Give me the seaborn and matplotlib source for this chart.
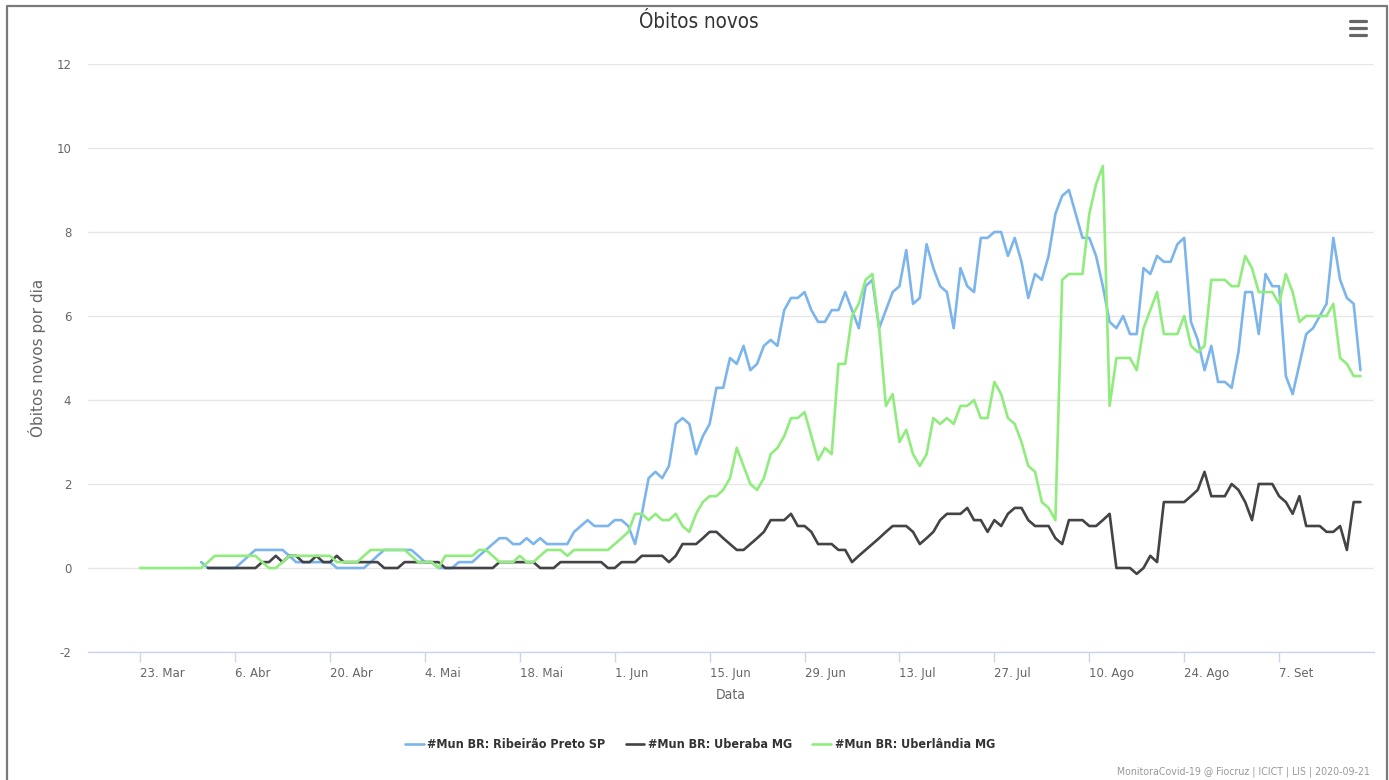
import pandas as pd
import matplotlib
matplotlib.use('Agg')
import matplotlib.pyplot as plt
from matplotlib.lines import Line2D
import seaborn as sns

# Daily new deaths (7-day average)
ribeirao_start = '2020-04-01'
ribeirao = [
    0.14, 0, 0, 0, 0, 0, 0.14, 0.29, 0.43, 0.43, 0.43, 0.43, 0.43, 0.29, 0.14, 0.14, 0.14, 0.14, 0.14, 0.14,
    0, 0, 0, 0, 0, 0.14, 0.29, 0.43, 0.43, 0.43, 0.43, 0.43, 0.29, 0.14, 0.14, 0, 0, 0, 0.14, 0.14,
    0.14, 0.29, 0.43, 0.57, 0.71, 0.71, 0.57, 0.57, 0.71, 0.57, 0.71, 0.57, 0.57, 0.57, 0.57, 0.86, 1.0, 1.14, 1.0, 1.0,
    1.0, 1.14, 1.14, 1.0, 0.57, 1.29, 2.14, 2.29, 2.14, 2.43, 3.43, 3.57, 3.43, 2.71, 3.14, 3.43, 4.29, 4.29, 5.0, 4.86,
    5.29, 4.71, 4.86, 5.29, 5.43, 5.29, 6.14, 6.43, 6.43, 6.57, 6.14, 5.86, 5.86, 6.14, 6.14, 6.57, 6.14, 5.71, 6.71, 6.86,
    5.71, 6.14, 6.57, 6.71, 7.57, 6.29, 6.43, 7.71, 7.14, 6.71, 6.57, 5.71, 7.14, 6.71, 6.57, 7.86, 7.86, 8.0, 8.0, 7.43,
    7.86, 7.29, 6.43, 7.0, 6.86, 7.43, 8.43, 8.86, 9.0, 8.43, 7.86, 7.86, 7.43, 6.71, 5.86, 5.71, 6.0, 5.57, 5.57, 7.14,
    7.0, 7.43, 7.29, 7.29, 7.71, 7.86, 5.86, 5.43, 4.71, 5.29, 4.43, 4.43, 4.29, 5.14, 6.57, 6.57, 5.57, 7.0, 6.71, 6.71,
    4.57, 4.14, 4.86, 5.57, 5.71, 6.0, 6.29, 7.86, 6.86, 6.43, 6.29, 4.71,
]

uberaba_start = '2020-04-02'
uberaba = [
    0, 0, 0, 0, 0, 0, 0, 0, 0.14, 0.14, 0.29, 0.14, 0.29, 0.29, 0.14, 0.14, 0.29, 0.14, 0.14, 0.29,
    0.14, 0.14, 0.14, 0.14, 0.14, 0.14, 0, 0, 0, 0.14, 0.14, 0.14, 0.14, 0.14, 0.14, 0, 0, 0, 0, 0,
    0, 0, 0, 0.14, 0.14, 0.14, 0.14, 0.14, 0.14, 0, 0, 0, 0.14, 0.14, 0.14, 0.14, 0.14, 0.14, 0.14, 0,
    0, 0.14, 0.14, 0.14, 0.29, 0.29, 0.29, 0.29, 0.14, 0.29, 0.57, 0.57, 0.57, 0.71, 0.86, 0.86, 0.71, 0.57, 0.43, 0.43,
    0.57, 0.71, 0.86, 1.14, 1.14, 1.14, 1.29, 1.0, 1.0, 0.86, 0.57, 0.57, 0.57, 0.43, 0.43, 0.14, 0.29, 0.43, 0.57, 0.71,
    0.86, 1.0, 1.0, 1.0, 0.86, 0.57, 0.71, 0.86, 1.14, 1.29, 1.29, 1.29, 1.43, 1.14, 1.14, 0.86, 1.14, 1.0, 1.29, 1.43,
    1.43, 1.14, 1.0, 1.0, 1.0, 0.71, 0.57, 1.14, 1.14, 1.14, 1.0, 1.0, 1.14, 1.29, 0, 0, 0, -0.14, 0, 0.29,
    0.14, 1.57, 1.57, 1.57, 1.57, 1.71, 1.86, 2.29, 1.71, 1.71, 1.71, 2.0, 1.86, 1.57, 1.14, 2.0, 2.0, 2.0, 1.71, 1.57,
    1.29, 1.71, 1.0, 1.0, 1.0, 0.86, 0.86, 1.0, 0.43, 1.57, 1.57,
]

uberlandia_start = '2020-03-23'
uberlandia = [
    0, 0, 0, 0, 0, 0, 0, 0, 0, 0, 0.14, 0.29, 0.29, 0.29, 0.29, 0.29, 0.29, 0.29, 0.14, 0,
    0, 0.14, 0.29, 0.29, 0.29, 0.29, 0.29, 0.29, 0.29, 0.14, 0.14, 0.14, 0.14, 0.29, 0.43, 0.43, 0.43, 0.43, 0.43, 0.43,
    0.29, 0.14, 0.14, 0.14, 0, 0.29, 0.29, 0.29, 0.29, 0.29, 0.43, 0.43, 0.29, 0.14, 0.14, 0.14, 0.29, 0.14, 0.14, 0.29,
    0.43, 0.43, 0.43, 0.29, 0.43, 0.43, 0.43, 0.43, 0.43, 0.43, 0.57, 0.71, 0.86, 1.29, 1.29, 1.14, 1.29, 1.14, 1.14, 1.29,
    1.0, 0.86, 1.29, 1.57, 1.71, 1.71, 1.86, 2.14, 2.86, 2.43, 2.0, 1.86, 2.14, 2.71, 2.86, 3.14, 3.57, 3.57, 3.71, 3.14,
    2.57, 2.86, 2.71, 4.86, 4.86, 6.0, 6.29, 6.86, 7.0, 5.71, 3.86, 4.14, 3.0, 3.29, 2.71, 2.43, 2.71, 3.57, 3.43, 3.57,
    3.43, 3.86, 3.86, 4.0, 3.57, 3.57, 4.43, 4.14, 3.57, 3.43, 3.0, 2.43, 2.29, 1.57, 1.43, 1.14, 6.86, 7.0, 7.0, 7.0,
    8.43, 9.14, 9.57, 3.86, 5.0, 5.0, 5.0, 4.71, 5.71, 6.14, 6.57, 5.57, 5.57, 5.57, 6.0, 5.29, 5.14, 5.29, 6.86, 6.86,
    6.86, 6.71, 6.71, 7.43, 7.14, 6.57, 6.57, 6.57, 6.29, 7.0, 6.57, 5.86, 6.0, 6.0, 6.0, 6.0, 6.29, 5.0, 4.86, 4.57, 4.57,
]

series_names = ['#Mun BR: Ribeirão Preto SP', '#Mun BR: Uberaba MG', '#Mun BR: Uberlândia MG']
series_colors = ['#7cb5ec', '#434348', '#90ed7d']

tick_dates = ['2020-03-23', '2020-04-06', '2020-04-20', '2020-05-04', '2020-05-18', '2020-06-01', '2020-06-15',
              '2020-06-29', '2020-07-13', '2020-07-27', '2020-08-10', '2020-08-24', '2020-09-07']
tick_labels = ['23. Mar', '6. Abr', '20. Abr', '4. Mai', '18. Mai', '1. Jun', '15. Jun',
               '29. Jun', '13. Jul', '27. Jul', '10. Ago', '24. Ago', '7. Set']
y_ticks = [-2, 0, 2, 4, 6, 8, 10, 12]

frames = []
for name, start, vals in zip(series_names, [ribeirao_start, uberaba_start, uberlandia_start],
                             [ribeirao, uberaba, uberlandia]):
    frames.append(pd.DataFrame({'Data': pd.date_range(start, periods=len(vals), freq='D'),
                                'obitos': vals, 'serie': name}))
df = pd.concat(frames, ignore_index=True)

sns.set_style('white')
plt.rcParams['font.family'] = ['DejaVu Sans']

fig = plt.figure(figsize=(13.89, 7.8), dpi=100)
ax = fig.add_axes([88 / 1389, 1 - 652 / 780, (1374 - 88) / 1389, (652 - 64) / 780])

sns.lineplot(data=df, x='Data', y='obitos', hue='serie', hue_order=series_names,
             palette=series_colors, estimator=None, sort=False, linewidth=1.9,
             legend=False, ax=ax)
for ln in ax.get_lines():
    ln.set_solid_joinstyle('round')

t0 = pd.Timestamp('2020-03-23')
ax.set_xlim(t0 - pd.Timedelta(days=7.7), t0 + pd.Timedelta(days=182))
ax.set_ylim(-2, 12)
ax.set_yticks(y_ticks)
ax.set_yticklabels([str(v) for v in y_ticks])
ax.set_xticks(pd.to_datetime(tick_dates))
ax.set_xticklabels(tick_labels)
for lab in ax.get_xticklabels():
    lab.set_horizontalalignment('left')

ax.yaxis.grid(True, color='#e6e6e6', linewidth=1)
ax.xaxis.grid(False)
for side in ['top', 'left', 'right']:
    ax.spines[side].set_visible(False)
ax.spines['bottom'].set_color('#ccd6eb')
ax.spines['bottom'].set_linewidth(1)
ax.tick_params(axis='x', bottom=True, direction='out', length=7.5, width=1, color='#ccd6eb',
               labelcolor='#666666', labelsize=8.5, pad=3)
ax.tick_params(axis='y', left=False, length=0, labelcolor='#666666', labelsize=8.5, pad=12)

ax.set_xlabel('Data', color='#666666', fontsize=10, fontstretch='condensed')
ax.xaxis.set_label_coords(0.5, -(688 - 652) / 588)
ax.set_ylabel('Óbitos novos por dia', color='#666666', fontsize=11)
ax.yaxis.set_label_coords((46 - 88) / 1286, 0.5)

fig.text(699 / 1389, 1 - 22 / 780, 'Óbitos novos', ha='center', va='center',
         fontsize=14.8, color='#333333', fontweight='light', fontstretch='condensed')

handles = [Line2D([], [], color=c, linewidth=1.9) for c in series_colors]
fig.legend(handles, series_names, loc='center', bbox_to_anchor=(700 / 1389, 1 - 745 / 780),
           ncol=3, frameon=False, handlelength=1.5, handletextpad=0.3, columnspacing=1.6,
           prop={'weight': 'bold', 'size': 9.0, 'stretch': 'condensed'}, labelcolor='#333333')

fig.text(1370 / 1389, 1 - 772 / 780, 'MonitoraCovid-19 @ Fiocruz | ICICT | LIS | 2020-09-21',
         ha='right', va='center', fontsize=7.6, color='#999999', fontstretch='condensed')

# menu icon
for yy in [21, 28, 35]:
    fig.add_artist(Line2D([1350 / 1389, 1366 / 1389], [1 - yy / 780, 1 - yy / 780],
                          transform=fig.transFigure, color='#666666', linewidth=2.3))

# outer frame
fig.add_artist(Line2D([7 / 1389, 7 / 1389, 1387 / 1389, 1387 / 1389],
                      [0, 1 - 6 / 780, 1 - 6 / 780, 0], transform=fig.transFigure,
                      color='#7a7a7a', linewidth=1.6))

fig.savefig('out.png', dpi=100)
